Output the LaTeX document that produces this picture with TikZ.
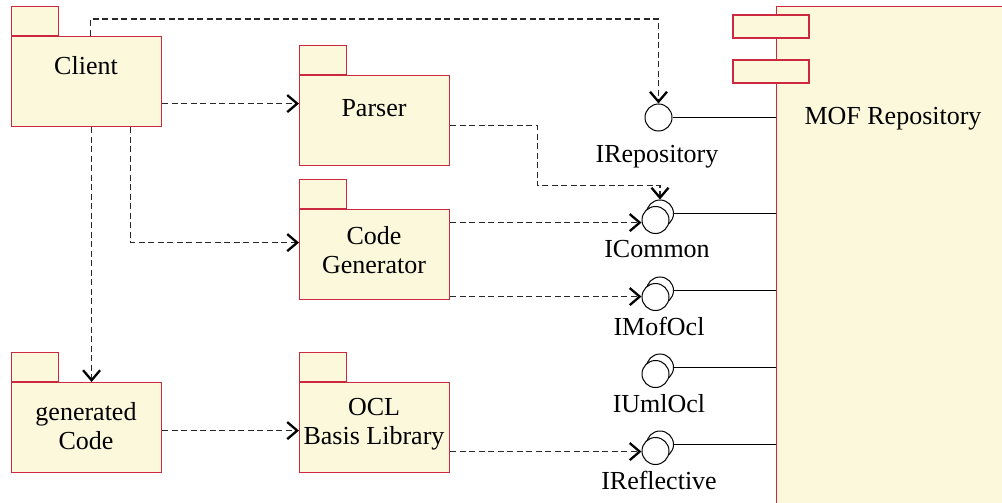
\documentclass[tikz,border=0pt]{standalone}
\usepackage{fontspec}
\setmainfont{Liberation Serif}
\usetikzlibrary{arrows.meta,calc}
\definecolor{pkgfill}{RGB}{252,248,220}
\definecolor{pkgline}{RGB}{204,40,64}
\definecolor{depline}{RGB}{40,40,40}
\begin{document}
\begin{tikzpicture}[x=1pt,y=-1pt,
  pkgbody/.style={draw=pkgline,fill=pkgfill,line width=1.2pt,minimum width=150pt,minimum height=90pt,inner sep=0pt,anchor=north west},
  pkgtab/.style={draw=pkgline,fill=pkgfill,line width=1.2pt,minimum width=47pt,minimum height=29pt,inner sep=0pt,anchor=south west},
  comptab/.style={draw=pkgline,fill=pkgfill,line width=1.2pt,minimum width=76pt,minimum height=23pt,inner sep=0pt},
  lbl/.style={font=\fontsize{26}{29}\selectfont,align=center,inner sep=0pt},
  iface/.style={circle,draw=black,fill=white,line width=1pt,minimum size=27pt,inner sep=0pt},
  dep/.style={draw=depline,line width=1.1pt,dash pattern=on 6pt off 3.5pt,-{Straight Barb[length=10pt,width=17pt,line width=2.3pt,color=black]}},
  conn/.style={draw=black,line width=1pt}]
\useasboundingbox (0,0) rectangle (1002,503);
\clip (0,0) rectangle (1002,503);
% MOF repository component
\node[draw=pkgline,fill=pkgfill,line width=1.2pt,anchor=north west,minimum width=240pt,minimum height=510pt,inner sep=0pt] (mof) at (776,6) {};
\node[comptab] (moftabA) at (771,26.5) {};
\node[comptab] (moftabB) at (771,71.5) {};
\node[lbl] (moflbl) at (893,119) {MOF Repository};
% packages
\node[pkgbody] (client) at (11,36) {};
\node[pkgtab] (clienttab) at (client.north west) {};
\node[lbl] (clientlbl) at (86,66) {Client};
\node[pkgbody] (parser) at (299,75) {};
\node[pkgtab] (parsertab) at (parser.north west) {};
\node[lbl] (parserlbl) at (374,108) {Parser};
\node[pkgbody] (codegen) at (299,209) {};
\node[pkgtab] (codegentab) at (codegen.north west) {};
\node[lbl] (codegenlbl) at (374,250.5) {Code\\Generator};
\node[pkgbody] (gencode) at (11,382) {};
\node[pkgtab] (gencodetab) at (gencode.north west) {};
\node[lbl] (gencodelbl) at (86,426) {generated\\Code};
\node[pkgbody] (ocl) at (299,382) {};
\node[pkgtab] (ocltab) at (ocl.north west) {};
\node[lbl] (ocllbl) at (374,424) {OCL\\Basis Library};
% interfaces
\node[iface] (irep) at (658.5,117.5) {};
\node[lbl] (ireplbl) at (657,156.5) {IRepository};
\node[iface] (icomB) at (660,213.5) {};
\node[iface] (icomF) at (655.5,220) {};
\node[lbl] (icomlbl) at (657,249) {ICommon};
\node[iface] (imofB) at (660,290.5) {};
\node[iface] (imofF) at (655.5,297) {};
\node[lbl] (imoflbl) at (659,326) {IMofOcl};
\node[iface] (iumlB) at (660,367.5) {};
\node[iface] (iumlF) at (655.5,374) {};
\node[lbl] (iumllbl) at (659,404) {IUmlOcl};
\node[iface] (irefB) at (660,444.5) {};
\node[iface] (irefF) at (655.5,451) {};
\node[lbl] (ireflbl) at (659,480) {IReflective};
% interface lines
\draw[conn] (irep.east) -- (irep.east -| mof.west);
\draw[conn] (icomB.east) -- (icomB.east -| mof.west);
\draw[conn] (imofB.east) -- (imofB.east -| mof.west);
\draw[conn] (iumlB.east) -- (iumlB.east -| mof.west);
\draw[conn] (irefB.east) -- (irefB.east -| mof.west);
% dependencies
\draw[dep] ($(client.north)+(4,0)$) -- ++(0,-17) -| (irep.north);
\draw[dep] ($(client.east)+(0,22)$) coordinate (c2) -- (c2 -| parser.west);
\draw[dep] ($(client.south)+(44,0)$) |- ($(codegen.west)+(0,-12)$);
\draw[dep] ($(client.south)+(5,0)$) coordinate (c4) -- (c4 |- gencode.north);
\draw[dep] ($(parser.east)+(0,5)$) -- ++(87,0) -- ++(0,60) -| (icomB.north);
\draw[dep] ($(codegen.east)+(0,-32)$) coordinate (c6) -- (c6 -| icomF.west);
\draw[dep] ($(codegen.east)+(0,42)$) coordinate (c7) -- (c7 -| imofF.west);
\draw[dep] ($(gencode.east)+(0,3)$) coordinate (c8) -- (c8 -| ocl.west);
\draw[dep] ($(ocl.east)+(0,24)$) coordinate (c9) -- (c9 -| irefF.west);
\end{tikzpicture}
\end{document}
